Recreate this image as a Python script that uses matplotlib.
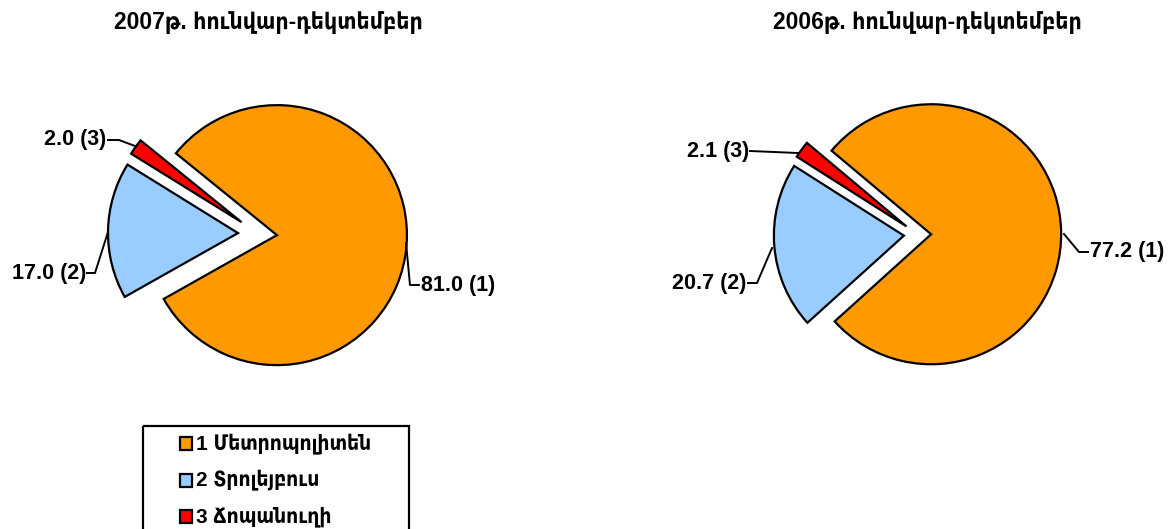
import matplotlib.pyplot as plt
from matplotlib.patches import Rectangle

plt.rcParams['font.family'] = ['Liberation Sans', 'DejaVu Sans']
plt.rcParams['font.weight'] = 'bold'
plt.rcParams['font.stretch'] = 'condensed'

# данные
titles = ['2007թ. հունվար-դեկտեմբեր', '2006թ. հունվար-դեկտեմբեր']
categories = ['1 Մետրոպոլիտեն', '2 Տրոլեյբուս', '3 Ճոպանուղի']
values_2007 = [81.0, 17.0, 2.0]
values_2006 = [77.2, 20.7, 2.1]
colors = ['#FF9900', '#99CCFF', '#FF0000']

W, H = 1176, 529
fig = plt.figure(figsize=(W / 100, H / 100), dpi=100)


def pie_axes(cx, cy, r):
    ax = fig.add_axes([(cx - 2 * r) / W, (H - cy - 2 * r) / H, 4 * r / W, 4 * r / H])
    return ax


def draw_pie(ax, values, start, expl):
    ax.pie(values, colors=colors, startangle=start, counterclock=False,
           explode=[expl] * len(values), radius=1,
           wedgeprops=dict(edgecolor='black', linewidth=1.6))
    ax.set_xlim(-2, 2)
    ax.set_ylim(-2, 2)
    ax.set_aspect('equal')
    ax.axis('off')


ax1 = pie_axes(257.5, 233.5, 130)
draw_pie(ax1, values_2007, 141, 0.15)
ax2 = pie_axes(917.5, 234.5, 130)
draw_pie(ax2, values_2006, 140, 0.105)

# верхний слой в пикселях: подписи, выноски, легенда
ov = fig.add_axes([0, 0, 1, 1], zorder=10)
ov.set_xlim(0, W)
ov.set_ylim(H, 0)
ov.axis('off')
ov.patch.set_alpha(0)

ov.text(268, 23, titles[0], ha='center', va='center', fontsize=16.5)
ov.text(927.5, 23, titles[1], ha='center', va='center', fontsize=16.5)

lbl = lambda v, i: f'{v:.1f} ({i})'
lw = 1.4
fs = 15.5
# 2007
ov.plot([108, 119, 135], [140, 140, 146], color='black', lw=lw)
ov.text(106, 140, lbl(values_2007[2], 3), ha='right', va='center', fontsize=fs)
ov.plot([87, 95, 108], [273, 273, 232], color='black', lw=lw)
ov.text(86, 273, lbl(values_2007[1], 2), ha='right', va='center', fontsize=fs)
ov.plot([406, 410, 419], [243, 285, 285], color='black', lw=lw)
ov.text(421, 285, lbl(values_2007[0], 1), ha='left', va='center', fontsize=fs)
# 2006
ov.plot([750, 798], [151, 153], color='black', lw=lw)
ov.text(749, 151, lbl(values_2006[2], 3), ha='right', va='center', fontsize=fs)
ov.plot([748, 757, 772], [283, 283, 248], color='black', lw=lw)
ov.text(746, 283, lbl(values_2006[1], 2), ha='right', va='center', fontsize=fs)
ov.plot([1064, 1079, 1088], [234, 252, 252], color='black', lw=lw)
ov.text(1090, 252, lbl(values_2006[0], 1), ha='left', va='center', fontsize=fs)

# легенда
ov.add_patch(Rectangle((143, 426), 266, 130, fill=False, edgecolor='black', lw=1.6))
for i, (name, c) in enumerate(zip(categories, colors)):
    y = 443.5 + i * 36.5
    ov.add_patch(Rectangle((180, y - 6.5), 12, 13, facecolor=c, edgecolor='black', lw=1.6))
    ov.text(196, y, name, ha='left', va='center', fontsize=15)

fig.savefig('out.png', dpi=100)
